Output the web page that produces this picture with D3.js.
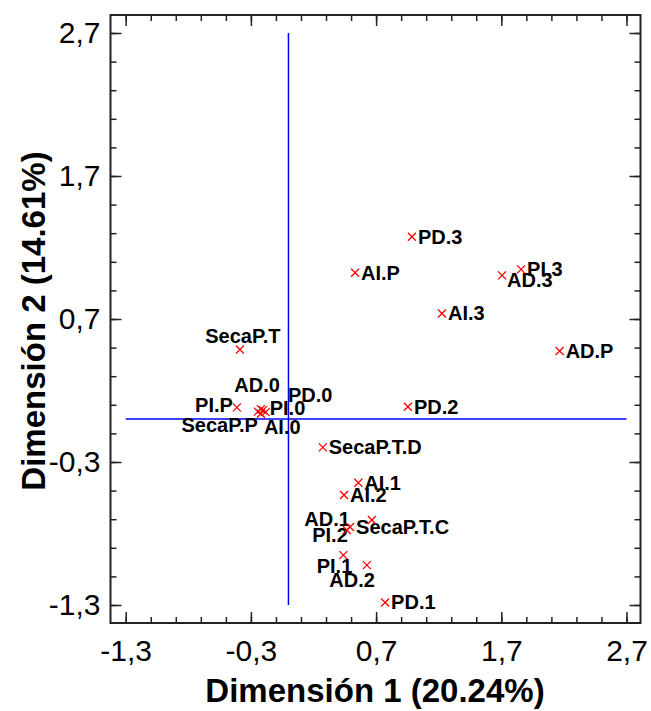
<!DOCTYPE html>
<html>
<head>
<meta charset="utf-8">
<script src="https://cdn.jsdelivr.net/npm/d3@7"></script>
<style>
  body { margin: 0; background: #fff; }
  text { font-family: "Liberation Sans", Arial, sans-serif; }
  .ptLabel { font-weight: bold; font-size: 20px; fill: #000; }
  .axisTitle { font-weight: bold; font-size: 33px; fill: #000; }
  .tick text { font-size: 30px; fill: #000; }
</style>
</head>
<body>
<svg class="biplot" width="651" height="711"></svg>
<script>
// Point names and coordinates (Dimensión 1, Dimensión 2)
const names = ["PD.3", "AI.P", "PI.3", "AD.3", "AI.3", "AD.P", "PD.2",
               "SecaP.T", "PI.P", "SecaP.P", "AD.0", "PD.0", "PI.0", "AI.0",
               "SecaP.T.D", "AI.1", "AI.2", "AD.1", "SecaP.T.C", "PI.2",
               "PI.1", "AD.2", "PD.1"];
const dim1 = [0.986, 0.532, 1.858, 1.706, 1.226, 2.166, 0.954,
              -0.388, -0.412, -0.244, -0.220, -0.204, -0.182, -0.220,
              0.274, 0.558, 0.444, 0.666, 0.492, 0.466,
              0.438, 0.626, 0.772];
const dim2 = [1.275, 1.023, 1.047, 1.005, 0.739, 0.476, 0.086,
              0.487, 0.082, 0.052, 0.070, 0.063, 0.049, 0.038,
              -0.198, -0.445, -0.531, -0.706, -0.755, -0.776,
              -0.951, -1.021, -1.282];

const majorTicks = [-1.3, -0.3, 0.7, 1.7, 2.7];
const minorTicks = d3.range(-1.3, 2.71, 0.2).map(v => +v.toFixed(1));

const xTitle = "Dimensión 1 (20.24%)";
const yTitle = "Dimensión 2 (14.61%)";

// where a label sits relative to its marker (dx, dy, anchor); default is right of it
const labelPos = {
  "AD.3": [5, 12, "start"],
  "SecaP.T": [3, -6, "middle"],
  "PI.P": [-4, 5, "end"],
  "SecaP.P": [0, 20, "end"],
  "AD.0": [19, -17, "end"],
  "PD.0": [25, -8, "start"],
  "PI.0": [4, 3, "start"],
  "AI.0": [3, 20, "start"],
  "AD.1": [-22, 6, "end"],
  "PI.2": [1, 12, "end"],
  "PI.1": [9, 18, "end"],
  "AD.2": [8, 22, "end"]
};

const svg = d3.select(".biplot");

const frame = {left: 110.5, right: 640.5, top: 15, bottom: 623};

const xScale = d3.scaleLinear().domain([-1.3, 2.7]).range([125.7, 626.5]);
const yScale = d3.scaleLinear().domain([-1.3, 2.7]).range([605, 33]);

const locale = d3.formatLocale({decimal: ",", thousands: ".", grouping: [3], currency: ["", ""], minus: "-"});
const fmt = locale.format(".1f");

function axisGroup(axis, tx, ty) {
  const g = svg.append("g").attr("transform", `translate(${tx},${ty})`).call(axis);
  g.select(".domain").remove();
  g.selectAll(".tick line").attr("stroke", "#222").attr("stroke-width", 1.5);
  return g;
}

// bottom & left with labels
axisGroup(d3.axisBottom(xScale).tickValues(majorTicks).tickSize(-11).tickPadding(17).tickFormat(fmt), 0, frame.bottom)
  .selectAll("text").attr("font-family", null).attr("font-size", null);
axisGroup(d3.axisLeft(yScale).tickValues(majorTicks).tickSize(-11).tickPadding(10).tickFormat(fmt), frame.left, 0)
  .selectAll("text").attr("font-family", null).attr("font-size", null);
axisGroup(d3.axisBottom(xScale).tickValues(minorTicks).tickSize(-6).tickFormat(""), 0, frame.bottom);
axisGroup(d3.axisLeft(yScale).tickValues(minorTicks).tickSize(-6).tickFormat(""), frame.left, 0);

// top & right ticks only
axisGroup(d3.axisTop(xScale).tickValues(majorTicks).tickSize(-11).tickFormat(""), 0, frame.top);
axisGroup(d3.axisTop(xScale).tickValues(minorTicks).tickSize(-6).tickFormat(""), 0, frame.top);
axisGroup(d3.axisRight(yScale).tickValues(majorTicks).tickSize(-11).tickFormat(""), frame.right, 0);
axisGroup(d3.axisRight(yScale).tickValues(minorTicks).tickSize(-6).tickFormat(""), frame.right, 0);

svg.append("rect")
   .attr("x", frame.left)
   .attr("y", frame.top)
   .attr("width", frame.right - frame.left)
   .attr("height", frame.bottom - frame.top)
   .attr("fill", "none")
   .attr("stroke", "#222")
   .attr("stroke-width", 2);

// origin lines
svg.append("line")
   .attr("x1", xScale(0)).attr("x2", xScale(0))
   .attr("y1", yScale(2.7)).attr("y2", yScale(-1.3))
   .attr("stroke", "#0000ff").attr("stroke-width", 1.5);
svg.append("line")
   .attr("x1", xScale(-1.3)).attr("x2", xScale(2.7))
   .attr("y1", yScale(0)).attr("y2", yScale(0))
   .attr("stroke", "#0000ff").attr("stroke-width", 1.5);

const points = names.map((n, i) => ({name: n, x: dim1[i], y: dim2[i]}));

// labels
svg.selectAll(".ptLabel")
   .data(points)
   .enter()
   .append("text")
   .attr("class", "ptLabel")
   .attr("x", d => xScale(d.x) + (labelPos[d.name] ? labelPos[d.name][0] : 6))
   .attr("y", d => yScale(d.y) + (labelPos[d.name] ? labelPos[d.name][1] : 7))
   .attr("text-anchor", d => labelPos[d.name] ? labelPos[d.name][2] : "start")
   .text(d => d.name);

// markers
svg.selectAll(".marker")
   .data(points)
   .enter()
   .append("path")
   .attr("class", "marker")
   .attr("transform", d => `translate(${xScale(d.x)},${yScale(d.y)})`)
   .attr("d", "M-4,-4L4,4M-4,4L4,-4")
   .attr("fill", "none")
   .attr("stroke", "#ff0000")
   .attr("stroke-width", 1.3);

// axis titles
svg.append("text")
   .attr("class", "axisTitle")
   .attr("text-anchor", "middle")
   .attr("x", 375)
   .attr("y", 702)
   .text(xTitle);

svg.append("text")
   .attr("class", "axisTitle")
   .attr("text-anchor", "middle")
   .attr("transform", "translate(45,321) rotate(-90)")
   .text(yTitle);
</script>
</body>
</html>
